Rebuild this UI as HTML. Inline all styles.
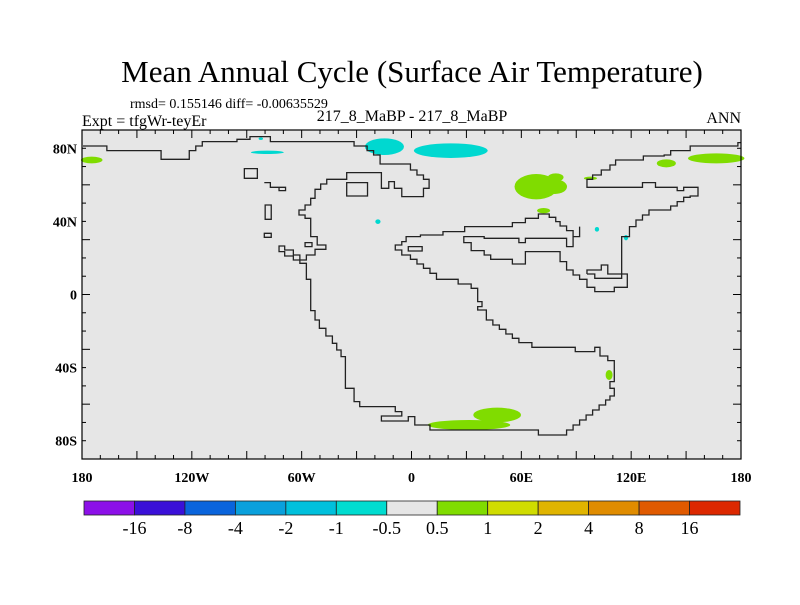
<!DOCTYPE html>
<html><head><meta charset="utf-8"><style>
body{margin:0;background:#fff;width:800px;height:600px;overflow:hidden}
svg{font-family:"Liberation Serif",serif}
</style></head><body>
<svg id="s" width="800" height="600" viewBox="0 0 800 600">
<text x="412" y="82" font-size="31" text-anchor="middle">Mean Annual Cycle (Surface Air Temperature)</text>
<text x="130" y="108" font-size="14">rmsd= 0.155146 diff= -0.00635529</text>
<text x="82" y="126" font-size="16">Expt = tfgWr-teyEr</text>
<text x="412" y="121" font-size="16" text-anchor="middle">217_8_MaBP - 217_8_MaBP</text>
<text x="741" y="123" font-size="16" text-anchor="end">ANN</text>
<rect x="82" y="130" width="659" height="329" fill="#e6e6e6"/>
<g transform="translate(70,90) scale(0.4337,0.3333)">
 <g fill="#00d8d0">
  <ellipse cx="725" cy="170" rx="45" ry="25"/><ellipse cx="878" cy="182" rx="85" ry="22"/>
  <ellipse cx="455" cy="187" rx="38" ry="5"/><ellipse cx="710" cy="395" rx="6" ry="7"/>
  <ellipse cx="1215" cy="418" rx="5" ry="7"/><ellipse cx="1282" cy="443" rx="5" ry="8"/>
  <ellipse cx="440" cy="146" rx="5" ry="4"/>
 </g>
 <g fill="#80dc00">
  <ellipse cx="50" cy="210" rx="25" ry="10"/><ellipse cx="1075" cy="290" rx="50" ry="38"/>
  <ellipse cx="1118" cy="290" rx="28" ry="22"/><ellipse cx="1120" cy="262" rx="18" ry="12"/>
  <ellipse cx="1092" cy="362" rx="15" ry="8"/><ellipse cx="1375" cy="220" rx="22" ry="12"/>
  <ellipse cx="1490" cy="205" rx="65" ry="15"/><ellipse cx="1200" cy="265" rx="15" ry="5"/>
  <ellipse cx="1243" cy="855" rx="8" ry="15"/><ellipse cx="920" cy="1005" rx="95" ry="15"/>
  <ellipse cx="985" cy="975" rx="55" ry="22"/>
 </g>
 <g fill="none" stroke="#222" stroke-width="1.3" vector-effect="non-scaling-stroke">
  <polyline vector-effect="non-scaling-stroke" points="30,168 85,168 85,182 210,182 210,208 275,208 275,182 290,182 290,168 305,168 305,155 385,155 385,148 415,148 415,140 462,140 462,155 655,155 655,168 685,168 685,182 700,182 700,195 715,195 715,222 785,222 785,240 800,240 800,255 815,255 815,268 828,268 828,295 815,295 815,320 765,320 765,295 748,295 748,275 735,275 735,295 718,295 718,248 638,248 638,268 605,268 592,268 592,282 578,282 578,298 565,298 565,325 555,325 555,345 542,345 542,360 528,360 528,375 542,375 542,385 555,385 555,440 570,440 570,465 590,465 590,478 565,478 565,495 545,495 545,510 530,510 530,495 515,495 515,480 495,480 495,468 482,468 482,485 495,485 495,498 515,498 515,510 530,510 530,520 545,520 545,568 555,568 555,662 565,662 565,690 575,690 575,715 590,715 590,738 605,738 605,760 615,760 615,780 625,780 625,800 635,800 635,895 655,895 655,935 668,935 668,950 750,950 750,965 765,965 765,978 718,978 718,993 780,993 780,980 795,980 795,1005 830,1005 830,1020 1080,1020 1080,1035 1145,1035 1145,1020 1160,1020 1160,1005 1175,1005 1175,990 1190,990 1190,975 1205,975 1205,960 1220,960 1220,945 1235,945 1235,930 1245,930 1245,918 1255,918 1255,895 1245,895 1245,875 1255,875 1255,812 1240,812 1240,798 1222,798 1222,772 1210,772 1210,785 1165,785 1165,772 1065,772 1065,758 1035,758 1035,745 1020,745 1020,732 1005,732 1005,718 990,718 990,705 975,705 975,690 960,690 960,660 940,660 940,650 950,650 950,635 940,635 940,595 925,595 925,582 895,582 895,568 845,568 845,550 830,550 830,535 815,535 815,522 800,522 800,508 785,508 785,495 765,495 765,480 750,480 750,465 765,465 765,455 775,455 775,440 808,440 808,435 860,435 860,425 910,425 910,410 1020,410 1020,398 1050,398 1050,385 1080,385 1080,372 1105,372 1105,382 1120,382 1120,395 1130,395 1130,408 1145,408 1145,422 1160,422 1160,440 1175,440 1175,410"/>
  <polyline vector-effect="non-scaling-stroke" points="1160,440 1160,470 1145,470 1145,445 1050,445 1050,458 1035,458 1035,445 955,445 955,440 908,440 908,458 925,458 925,482 955,482 955,495 970,495 970,508 1020,508 1020,522 1050,522 1050,485 1130,485 1130,515 1145,515 1145,540 1160,540 1160,555 1175,555 1175,568 1192,568 1192,592 1210,592 1210,605 1255,605 1255,592 1285,592 1285,552 1272,552 1272,440 1290,440 1290,410 1305,410 1305,390 1320,390 1320,375 1335,375 1335,360 1385,360 1385,348 1400,348 1400,335 1415,335 1415,322 1430,322 1430,318 1448,318 1448,292 1415,292 1415,302 1400,302 1400,292 1350,292 1350,278 1320,278 1320,292 1192,292 1192,268 1205,268 1205,255 1225,255 1225,240 1245,240 1245,225 1258,225 1258,210 1322,210 1322,198 1370,198 1370,195 1385,195 1385,182 1430,182 1430,168 1540,168 1540,158 1548,158"/>
  <polyline vector-effect="non-scaling-stroke" points="1192,552 1192,540 1225,540 1225,525 1240,525 1240,552 1272,552 1272,565 1210,565 1210,552 1192,552"/>
  <rect vector-effect="non-scaling-stroke" x="402" y="236" width="30" height="29"/>
  <rect vector-effect="non-scaling-stroke" x="450" y="345" width="14" height="43"/>
  <rect vector-effect="non-scaling-stroke" x="448" y="430" width="16" height="12"/>
  <rect vector-effect="non-scaling-stroke" x="542" y="458" width="16" height="12"/>
  <rect vector-effect="non-scaling-stroke" x="780" y="470" width="32" height="13"/>
  <rect vector-effect="non-scaling-stroke" x="638" y="278" width="48" height="40"/>
  <polyline vector-effect="non-scaling-stroke" points="448,278 462,278 462,292 482,292 482,302 497,302 497,292 482,292"/>
 </g>
</g>
<rect x="82" y="130" width="659" height="329" fill="none" stroke="#000" stroke-width="1.2"/>
<g id="axes"></g>
<g id="cbar"></g>
</svg>
<script>
const latTicks=[80,40,0,-40,-80];
const latLabels=["80N","40N","0","40S","80S"];
const lonTicks=[-180,-120,-60,0,60,120,180];
const lonLabels=["180","120W","60W","0","60E","120E","180"];
const levels=["-16","-8","-4","-2","-1","-0.5","0.5","1","2","4","8","16"];
const colors=["#8c10e8","#3a10d8","#0a64dc","#0aa0dc","#00c0dc","#00dcd0","#e6e6e6","#80dc00","#d0dc00","#e0b400","#e08c00","#e05a00","#dc2800"];
const NS="http://www.w3.org/2000/svg";
const L=82,R=741,T=130,B=459;
const xs=lon=>L+(lon+180)/360*(R-L);
const ys=lat=>T+(90-lat)/180*(B-T);
const ax=document.getElementById('axes');
function mk(tag,a,p){const e=document.createElementNS(NS,tag);for(const k in a)e.setAttribute(k,a[k]);p.appendChild(e);return e;}
for(let lon=-180;lon<=180;lon+=10){
 const maj=lon%30===0, len=maj?8:4, x=xs(lon);
 const t1=mk('line',{x1:x,x2:x,y1:B,y2:B-len,stroke:'#000'},ax);
 
 
 const t2=mk('line',{x1:x,x2:x,y1:T,y2:T+len,stroke:'#000'},ax);
 
 
}
for(let lat=-90;lat<=90;lat+=10){
 const maj=lat%30===0, len=maj?8:4, y=ys(lat);
 const t1=mk('line',{x1:L,x2:L+len,y1:y,y2:y,stroke:'#000'},ax);
 
 
 const t2=mk('line',{x1:R,x2:R-len,y1:y,y2:y,stroke:'#000'},ax);
 
 
}
latTicks.forEach((v,i)=>{const t=mk('text',{x:77,y:ys(v)+5,'font-size':14,'font-weight':'bold','text-anchor':'end'},ax);t.textContent=latLabels[i];
 
 });
lonTicks.forEach((v,i)=>{const t=mk('text',{x:xs(v),y:482,'font-size':14,'font-weight':'bold','text-anchor':'middle'},ax);t.textContent=lonLabels[i];
 
 });
const cb=document.getElementById('cbar');
const cx0=84,cx1=740,w=(cx1-cx0)/colors.length;
colors.forEach((c,i)=>{const r=mk('rect',{x:cx0+i*w,y:501,width:w,height:14,fill:c,stroke:'#222','stroke-width':0.8},cb);
 
 });
levels.forEach((s,i)=>{const t=mk('text',{x:cx0+(i+1)*w,y:534,'font-size':18,'text-anchor':'middle'},cb);t.textContent=s;
 
 });
</script>
</body></html>
